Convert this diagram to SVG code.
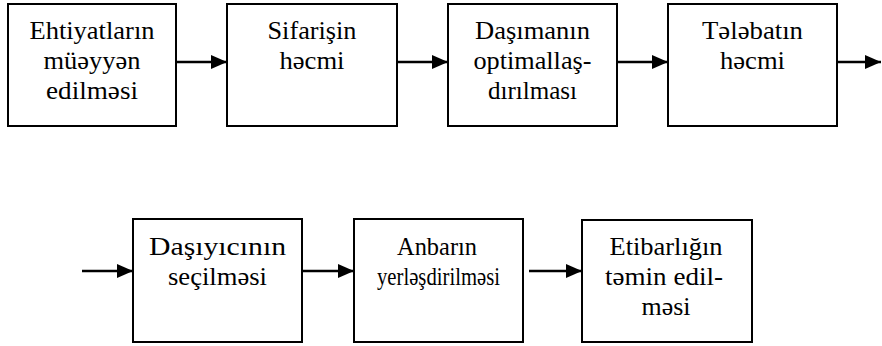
<svg xmlns="http://www.w3.org/2000/svg" width="882" height="346" viewBox="0 0 882 346">
<style>
.box{fill:#fff;stroke:#000;stroke-width:2}
.t{font-family:'Liberation Serif','Times New Roman',serif;font-size:26px;fill:#000;text-anchor:middle}
.c{stroke:#000;stroke-width:2.5;fill:none;marker-end:url(#ah)}
</style>
<defs>
<marker id="ah" markerUnits="userSpaceOnUse" markerWidth="16" markerHeight="14" refX="16" refY="7" orient="auto">
<path d="M0,0 L16,7 L0,14 z" fill="#000"/>
</marker>
</defs>
<rect width="882" height="346" fill="#fff"/>
<g id="n1"><rect class="box" x="8" y="4" width="168" height="122"/>
<text class="t" x="92" y="39" textLength="125" lengthAdjust="spacingAndGlyphs">Ehtiyatların</text><text class="t" x="92" y="69" textLength="97" lengthAdjust="spacingAndGlyphs">müəyyən</text><text class="t" x="92" y="99" textLength="92" lengthAdjust="spacingAndGlyphs">edilməsi</text></g>
<g id="n2"><rect class="box" x="227" y="4" width="170" height="122"/>
<text class="t" x="312" y="39" textLength="89" lengthAdjust="spacingAndGlyphs">Sifarişin</text><text class="t" x="312" y="69" textLength="65" lengthAdjust="spacingAndGlyphs">həcmi</text></g>
<g id="n3"><rect class="box" x="448" y="4" width="169" height="122"/>
<text class="t" x="532.5" y="39" textLength="115" lengthAdjust="spacingAndGlyphs">Daşımanın</text><text class="t" x="532.5" y="69" textLength="118" lengthAdjust="spacingAndGlyphs">optimallaş-</text><text class="t" x="532.5" y="99" textLength="89" lengthAdjust="spacingAndGlyphs">dırılması</text></g>
<g id="n4"><rect class="box" x="668" y="4" width="169" height="122"/>
<text class="t" x="752.5" y="39" textLength="101" lengthAdjust="spacingAndGlyphs">Tələbatın</text><text class="t" x="752.5" y="69" textLength="65" lengthAdjust="spacingAndGlyphs">həcmi</text></g>
<g id="n5"><rect class="box" x="133" y="219" width="169" height="123"/>
<text class="t" x="217.5" y="255" textLength="137" lengthAdjust="spacingAndGlyphs">Daşıyıcının</text><text class="t" x="217.5" y="285" textLength="99" lengthAdjust="spacingAndGlyphs">seçilməsi</text></g>
<g id="n6"><rect class="box" x="354" y="219" width="169" height="123"/>
<text class="t" x="437" y="255" textLength="80" lengthAdjust="spacingAndGlyphs">Anbarın</text><text class="t" x="438.5" y="285" textLength="123" lengthAdjust="spacingAndGlyphs">yerləşdirilməsi</text></g>
<g id="n7"><rect class="box" x="582" y="220" width="170" height="122"/>
<text class="t" x="666" y="255" textLength="113" lengthAdjust="spacingAndGlyphs">Etibarlığın</text><text class="t" x="664" y="285" textLength="118" lengthAdjust="spacingAndGlyphs">təmin edil-</text><text class="t" x="666" y="315" textLength="49" lengthAdjust="spacingAndGlyphs">məsi</text></g>
<g id="connectors">
<line class="c" x1="176" y1="62" x2="227" y2="62"/>
<line class="c" x1="397" y1="62" x2="448" y2="62"/>
<line class="c" x1="617" y1="62" x2="668" y2="62"/>
<line class="c" x1="837" y1="62" x2="881" y2="62"/>
<line class="c" x1="82" y1="271" x2="133" y2="271"/>
<line class="c" x1="302" y1="271" x2="354" y2="271"/>
<line class="c" x1="529" y1="271" x2="582" y2="271"/>
</g>
</svg>
